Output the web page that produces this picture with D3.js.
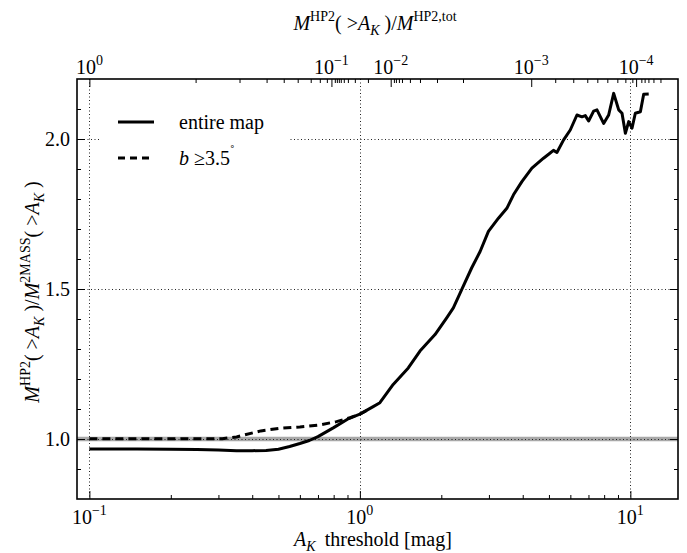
<!DOCTYPE html>
<html>
<head>
<meta charset="utf-8">
<script src="https://cdn.jsdelivr.net/npm/d3@7"></script>
<style>
  html, body { margin: 0; padding: 0; background: #fff; }
  svg, svg text, svg tspan { font-family: "Liberation Serif", "Times New Roman", serif; }
</style>
</head>
<body>
<svg id="chart" width="687" height="553"></svg>
<script>
// ---------------- data ----------------
const solidAK = [0.10, 0.15, 0.20, 0.25, 0.30, 0.35, 0.40, 0.45, 0.50, 0.55, 0.60, 0.65, 0.70, 0.80, 0.90, 1.00, 1.12, 1.186, 1.328, 1.51, 1.668, 1.896, 2.094, 2.216, 2.379, 2.589, 2.783, 2.987, 3.253, 3.494, 3.697, 3.971, 4.325, 4.774, 5.0, 5.196, 5.351, 5.665, 5.995, 6.346, 6.622, 6.813, 7.009, 7.314, 7.524, 7.965, 8.313, 8.676, 9.055, 9.314, 9.583, 9.858, 10.14, 10.43, 10.89, 11.20, 11.69];
const solidRatio = [0.967, 0.967, 0.966, 0.965, 0.963, 0.961, 0.961, 0.962, 0.966, 0.975, 0.985, 0.995, 1.008, 1.038, 1.066, 1.083, 1.108, 1.121, 1.182, 1.237, 1.293, 1.348, 1.404, 1.437, 1.498, 1.570, 1.625, 1.692, 1.736, 1.769, 1.814, 1.858, 1.903, 1.936, 1.950, 1.962, 1.955, 1.997, 2.030, 2.080, 2.074, 2.078, 2.060, 2.093, 2.097, 2.052, 2.080, 2.152, 2.097, 2.086, 2.019, 2.058, 2.036, 2.086, 2.091, 2.149, 2.150];

const dashedAK = [0.10, 0.20, 0.31, 0.35, 0.43, 0.51, 0.60, 0.71, 0.82, 0.92, 1.00, 1.06];
const dashedRatio = [1.001, 1.001, 1.001, 1.007, 1.027, 1.036, 1.040, 1.047, 1.058, 1.071, 1.083, 1.095];

const seriesNames = ["entire map", "b \u22653.5\u00b0"];

const bottomTickValues = [0.1, 1, 10];
const bottomTickExps = ["\u22121", "0", "1"];
const bottomMinorValues = [0.2, 0.3, 0.4, 0.5, 0.6, 0.7, 0.8, 0.9, 2, 3, 4, 5, 6, 7, 8, 9];

const yTickValues = [1.0, 1.5, 2.0];
const yTickLabels = ["1.0", "1.5", "2.0"];
const yMinorValues = [0.9, 1.1, 1.2, 1.3, 1.4, 1.6, 1.7, 1.8, 1.9, 2.1];

// top axis: mass fraction M(>A_K)/M_tot, placed at the A_K where it is reached
const topTickAK = [0.1, 0.785, 1.30, 4.3, 10.5];
const topTickExps = ["0", "\u22121", "\u22122", "\u22123", "\u22124"];
const topMinorAK = [0.247, 0.359, 0.452, 0.523, 0.589, 0.658, 0.711, 0.755,
                    0.808, 0.822, 0.836, 0.850, 0.872, 0.903, 0.958, 1.071,
                    1.336, 1.359, 1.394, 1.431, 1.531, 1.668, 1.928, 2.406,
                    5.275, 6.150, 6.929, 7.548, 8.219, 8.950, 9.583, 10.17,
                    10.98, 11.29, 11.66, 12.17, 12.92];

// ---------------- layout ----------------
const L = 77, R = 678, T = 79, B = 499;
const FONT = "Liberation Serif, Times New Roman, serif";
const svg = d3.select("#chart");
const x = d3.scaleLog().domain([0.09, 15]).range([L, R]);
const y = d3.scaleLinear().domain([0.8, 2.2]).range([B, T]);

// reference line at 1.0 (gray band)
svg.append("line")
  .attr("x1", L).attr("x2", R).attr("y1", y(1.0)).attr("y2", y(1.0))
  .attr("stroke", "#a8a8a8").attr("stroke-width", 4.5);

// grid
const grid = svg.append("g").attr("stroke", "#222").attr("stroke-width", 1).attr("stroke-dasharray", "1,2.5");
grid.selectAll("line.v").data(bottomTickValues).join("line")
  .attr("x1", d => Math.round(x(d)) + 0.5).attr("x2", d => Math.round(x(d)) + 0.5)
  .attr("y1", T).attr("y2", B);
grid.selectAll("line.h").data(yTickValues).join("line")
  .attr("y1", d => Math.round(y(d)) + 0.5).attr("y2", d => Math.round(y(d)) + 0.5)
  .attr("x1", L).attr("x2", R);

// legend background (hides grid behind it)
svg.append("rect").attr("x", 100).attr("y", 102).attr("width", 188).attr("height", 74).attr("fill", "#fff");

// curves
const line = d3.line().x(d => x(d[0])).y(d => y(d[1]));
const solidData = solidAK.map((a, i) => [a, solidRatio[i]]);
const dashedData = dashedAK.map((a, i) => [a, dashedRatio[i]]);

svg.append("path").datum(dashedData).attr("d", line)
  .attr("fill", "none").attr("stroke", "#000").attr("stroke-width", 3)
  .attr("stroke-dasharray", "8,5");
svg.append("path").datum(solidData).attr("d", line)
  .attr("fill", "none").attr("stroke", "#000").attr("stroke-width", 3)
  .attr("stroke-linejoin", "round");

// axes (ticks inward)
const fmtNone = () => "";
function styleAxis(g) {
  g.select(".domain").remove();
  g.selectAll(".tick line").attr("stroke", "#000").attr("stroke-width", 1);
  g.selectAll(".tick text").remove();
  g.attr("font-family", null);
}
svg.append("g").attr("transform", `translate(0,${B})`)
  .call(d3.axisBottom(x).tickValues(bottomTickValues).tickSize(-8).tickFormat(fmtNone)).call(styleAxis);
svg.append("g").attr("transform", `translate(0,${B})`)
  .call(d3.axisBottom(x).tickValues(bottomMinorValues).tickSize(-4).tickFormat(fmtNone)).call(styleAxis);
svg.append("g").attr("transform", `translate(0,${T})`)
  .call(d3.axisTop(x).tickValues(topTickAK).tickSize(-8).tickFormat(fmtNone)).call(styleAxis);
svg.append("g").attr("transform", `translate(0,${T})`)
  .call(d3.axisTop(x).tickValues(topMinorAK).tickSize(-4).tickFormat(fmtNone)).call(styleAxis);
svg.append("g").attr("transform", `translate(${L},0)`)
  .call(d3.axisLeft(y).tickValues(yTickValues).tickSize(-8).tickFormat(fmtNone)).call(styleAxis);
svg.append("g").attr("transform", `translate(${L},0)`)
  .call(d3.axisLeft(y).tickValues(yMinorValues).tickSize(-4).tickFormat(fmtNone)).call(styleAxis);
svg.append("g").attr("transform", `translate(${R},0)`)
  .call(d3.axisRight(y).tickValues(yTickValues).tickSize(-8).tickFormat(fmtNone)).call(styleAxis);
svg.append("g").attr("transform", `translate(${R},0)`)
  .call(d3.axisRight(y).tickValues(yMinorValues).tickSize(-4).tickFormat(fmtNone)).call(styleAxis);

// frame
svg.append("rect").attr("x", L).attr("y", T).attr("width", R - L).attr("height", B - T)
  .attr("fill", "none").attr("stroke", "#000").attr("stroke-width", 1.6);

// rich text helper: segments {t, i (italic), s: 'sup'|'sub'|undefined}
function rich(sel, segs, size) {
  sel.style("font-family", FONT).attr("font-size", size);
  let off = 0;
  segs.forEach(sg => {
    let target = 0, fs = size;
    if (sg.s === "sup") { target = -size * 0.45; fs = size * 0.7; }
    if (sg.s === "sub") { target = size * 0.25; fs = size * 0.7; }
    sel.append("tspan").text(sg.t)
      .attr("dy", (target - off).toFixed(2))
      .attr("font-size", fs)
      .style("font-family", FONT)
      .attr("font-style", sg.i ? "italic" : "normal");
    off = target;
  });
}

function powerLabel(g, xPos, yPos, exp) {
  const t = g.append("text").attr("x", xPos).attr("y", yPos).attr("text-anchor", "middle");
  rich(t, [{t: "10"}, {t: exp, s: "sup"}], 20);
}

// bottom tick labels
bottomTickValues.forEach((v, i) => powerLabel(svg, x(v), 524, bottomTickExps[i]));
// top tick labels
topTickAK.forEach((v, i) => powerLabel(svg, x(v), 74, topTickExps[i]));
// y tick labels
yTickValues.forEach((v, i) => {
  svg.append("text").attr("x", 70).attr("y", y(v) + 7).attr("text-anchor", "end")
    .style("font-family", FONT).attr("font-size", 20).text(yTickLabels[i]);
});

// axis titles
const bx = svg.append("text").attr("x", 373).attr("y", 546).attr("text-anchor", "middle");
rich(bx, [{t: "A", i: true}, {t: "K", i: true, s: "sub"}, {t: "\u2009 threshold [mag]"}], 20);

const tx = svg.append("text").attr("x", 375).attr("y", 30).attr("text-anchor", "middle");
rich(tx, [{t: "M", i: true}, {t: "HP2", s: "sup"}, {t: "( >"}, {t: "A", i: true}, {t: "K", i: true, s: "sub"}, {t: " )/"},
          {t: "M", i: true}, {t: "HP2,tot", s: "sup"}], 20);

const yl = svg.append("text").attr("transform", "translate(39,292) rotate(-90)").attr("text-anchor", "middle");
rich(yl, [{t: "M", i: true}, {t: "HP2", s: "sup"}, {t: "( >"}, {t: "A", i: true}, {t: "K", i: true, s: "sub"}, {t: " )/"},
          {t: "M", i: true}, {t: "2MASS", s: "sup"}, {t: "( >"}, {t: "A", i: true}, {t: "K", i: true, s: "sub"}, {t: " )"}], 20);

// legend
const lg = svg.append("g");
lg.append("line").attr("x1", 118).attr("x2", 154).attr("y1", 122).attr("y2", 122)
  .attr("stroke", "#000").attr("stroke-width", 3);
lg.append("line").attr("x1", 118).attr("x2", 154).attr("y1", 158).attr("y2", 158)
  .attr("stroke", "#000").attr("stroke-width", 3).attr("stroke-dasharray", "7,5");
lg.append("text").attr("x", 179).attr("y", 129).style("font-family", FONT).attr("font-size", 20).text(seriesNames[0]);
const l2 = lg.append("text").attr("x", 179).attr("y", 165);
rich(l2, [{t: "b", i: true}, {t: " \u22653.5"}, {t: "\u02da", s: "sup"}], 20);
</script>
</body>
</html>
